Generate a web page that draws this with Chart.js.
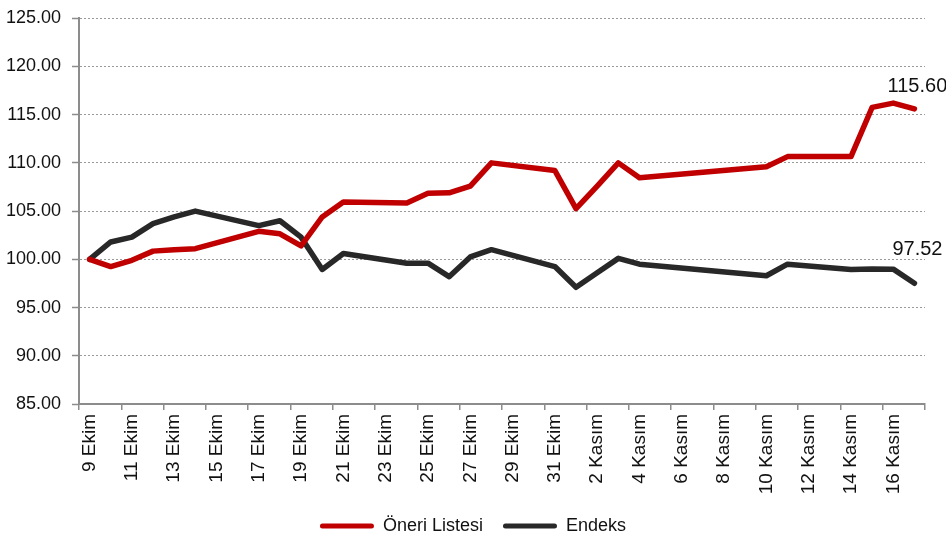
<!DOCTYPE html>
<html>
<head>
<meta charset="utf-8">
<script src="https://cdn.jsdelivr.net/npm/chart.js@4/dist/chart.umd.min.js"></script>
<style>
    html, body { margin: 0; padding: 0; background: #ffffff; }
    #wrap { width: 946px; height: 545px; }
</style>
</head>
<body>
<div id="wrap"><canvas id="performanceChart" width="946" height="545"></canvas></div>
<script>
// one category per calendar day, labels shown every second day
const days = [
    "9 Ekim", "10 Ekim", "11 Ekim", "12 Ekim", "13 Ekim", "14 Ekim", "15 Ekim", "16 Ekim",
    "17 Ekim", "18 Ekim", "19 Ekim", "20 Ekim", "21 Ekim", "22 Ekim", "23 Ekim", "24 Ekim",
    "25 Ekim", "26 Ekim", "27 Ekim", "28 Ekim", "29 Ekim", "30 Ekim", "31 Ekim",
    "1 Kasım", "2 Kasım", "3 Kasım", "4 Kasım", "5 Kasım", "6 Kasım", "7 Kasım", "8 Kasım",
    "9 Kasım", "10 Kasım", "11 Kasım", "12 Kasım", "13 Kasım", "14 Kasım", "15 Kasım",
    "16 Kasım", "17 Kasım",
];

// null = no trading that day (weekend / holiday)
const oneriListesi = [
    100.0, 99.25, 99.9, 100.85, 101.0, 101.1, null, null,
    102.9, 102.65, 101.4, 104.4, 105.95, null, null, 105.85,
    106.85, 106.9, 107.6, 110.0, null, null, 109.2,
    105.25, 107.6, 110.0, 108.45, null, null, null, null,
    null, 109.6, 110.65, null, null, 110.65, 115.75,
    116.2, 115.6,
];

const endeks = [
    100.0, 101.8, 102.3, 103.7, 104.4, 105.0, null, null,
    103.5, 104.0, 102.3, 98.95, 100.6, null, null, 99.6,
    99.6, 98.2, 100.25, 101.0, null, null, 99.25,
    97.1, 98.6, 100.1, 99.5, null, null, null, null,
    null, 98.3, 99.5, null, null, 98.95, 99.0,
    98.98, 97.52,
];

const yTicks = [85, 90, 95, 100, 105, 110, 115, 120, 125];

const FONT = "'Liberation Sans', Arial, sans-serif";
const AXIS_GREY = "#8c8c8c";

// value label above the last point of each line
const lastValueLabels = {
    id: "lastValueLabels",
    afterLayout(chart) {
        // centre the legend on the whole canvas, not only the padded area
        if (chart.legend) {
            chart.legend.right = chart.width;
        }
    },
    afterDatasetsDraw(chart) {
        const ctx = chart.ctx;
        const lift = [22, 34];
        ctx.save();
        ctx.font = "20px " + FONT;
        ctx.fillStyle = "#111111";
        ctx.textAlign = "center";
        ctx.textBaseline = "middle";
        chart.data.datasets.forEach((ds, i) => {
            const meta = chart.getDatasetMeta(i);
            const last = ds.data.length - 1;
            const pt = meta.data[last];
            if (!pt) {
                return;
            }
            ctx.fillText(ds.data[last].toFixed(2), pt.x + 3, pt.y - lift[i]);
        });
        ctx.restore();
    },
};

function createChart() {
    const canvas = document.getElementById("performanceChart");

    if (!canvas || typeof Chart === "undefined") {
        return;
    }

    new Chart(canvas.getContext("2d"), {
        type: "line",

        data: {
            labels: days,

            datasets: [
                {
                    label: "Öneri Listesi",
                    data: oneriListesi,
                    borderColor: "#c00000",
                    backgroundColor: "#c00000",
                    borderWidth: 5.5,
                    borderJoinStyle: "round",
                    borderCapStyle: "round",
                    pointRadius: 0,
                    tension: 0,
                    spanGaps: true,
                },
                {
                    label: "Endeks",
                    data: endeks,
                    borderColor: "#282828",
                    backgroundColor: "#282828",
                    borderWidth: 5.5,
                    borderJoinStyle: "round",
                    borderCapStyle: "round",
                    pointRadius: 0,
                    tension: 0,
                    spanGaps: true,
                },
            ],
        },

        options: {
            responsive: false,
            animation: false,
            devicePixelRatio: 1,

            layout: {
                padding: { top: 16, right: 21, left: 0, bottom: 0 },
            },

            scales: {
                x: {
                    offset: true,
                    grid: {
                        offset: true,
                        drawOnChartArea: false,
                        tickLength: 6,
                        lineWidth: 1.5,
                        color: (c) => (c.index === undefined || c.index % 2 === 0) ? AXIS_GREY : "rgba(0,0,0,0)",
                    },
                    border: { color: AXIS_GREY, width: 2 },
                    ticks: {
                        autoSkip: false,
                        maxRotation: 90,
                        minRotation: 90,
                        padding: 4,
                        color: "#111111",
                        font: { family: FONT, size: 19 },
                        callback: (v, i) => (i % 2 === 0 ? days[i] : ""),
                    },
                    afterFit: (s) => { s.height = 93; },
                },
                y: {
                    min: yTicks[0],
                    max: yTicks[yTicks.length - 1],
                    afterBuildTicks: (s) => { s.ticks = yTicks.map((v) => ({ value: v })); },
                    grid: {
                        color: "#9a9a9a",
                        lineWidth: 1,
                        tickLength: 7,
                        tickColor: AXIS_GREY,
                        tickWidth: 1.5,
                    },
                    border: { color: AXIS_GREY, width: 2, dash: [2, 2] },
                    ticks: {
                        padding: 11,
                        color: "#111111",
                        font: { family: FONT, size: 18, lineHeight: 0.8 },
                        callback: (v) => Number(v).toFixed(2),
                    },
                    afterFit: (s) => { s.width = 79; },
                },
            },

            plugins: {
                legend: {
                    position: "bottom",
                    labels: {
                        color: "#111111",
                        font: { family: FONT, size: 18 },
                        boxWidth: 54,
                        boxHeight: 5,
                        padding: 20,
                        useBorderRadius: true,
                        generateLabels(chart) {
                            const items = Chart.defaults.plugins.legend.labels.generateLabels(chart);
                            items.forEach((it) => {
                                it.lineWidth = 0;
                                it.fillStyle = it.strokeStyle;
                                it.borderRadius = 2.5;
                            });
                            return items;
                        },
                    },
                },
                tooltip: { enabled: false },
            },
        },

        plugins: [lastValueLabels],
    });
}

createChart();
</script>
</body>
</html>
